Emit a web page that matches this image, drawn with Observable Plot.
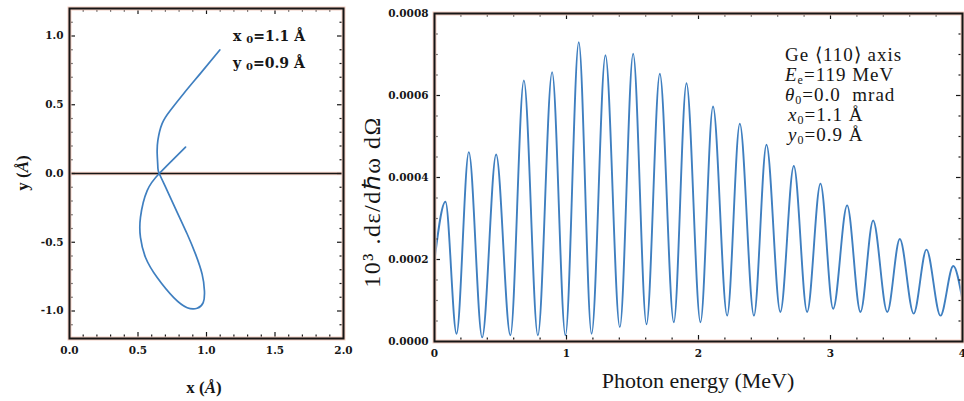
<!DOCTYPE html>
<html><head><meta charset="utf-8">
<script src="https://cdn.jsdelivr.net/npm/d3@7"></script>
<script src="https://cdn.jsdelivr.net/npm/@observablehq/plot@0.6"></script>
<style>
html,body{margin:0;padding:0;background:#fff;}
#wrap{position:relative;width:964px;height:401px;overflow:hidden;background:#fff;}
#left{position:absolute;left:0;top:0;}
#right{position:absolute;left:360px;top:0;}
svg{overflow:visible;}
</style></head><body>
<div id="wrap"><div id="left"></div><div id="right"></div></div>
<script>
// ---- Data: trajectory (Å), in path order ----
const trajX = [1.097,0.956,0.834,0.737,0.676,0.645,0.640,0.645,0.655,0.713,0.786,0.859,0.920,0.968,0.985,0.976,0.932,0.859,0.761,0.640,0.555,0.518,0.518,0.567,0.655,0.750,0.847];
const trajY = [0.898,0.728,0.582,0.460,0.363,0.241,0.144,0.046,0.000,-0.124,-0.282,-0.440,-0.586,-0.732,-0.854,-0.939,-0.980,-0.976,-0.903,-0.757,-0.611,-0.465,-0.319,-0.124,0.000,0.096,0.192];

// ---- Data: spectrum extrema (MeV, value) ----
const specE = [0,0.083,0.167,0.260,0.361,0.467,0.575,0.677,0.783,0.891,0.992,1.093,1.190,1.295,1.404,1.505,1.606,1.707,1.813,1.909,2.015,2.110,2.217,2.313,2.420,2.515,2.620,2.722,2.823,2.924,3.020,3.126,3.227,3.323,3.430,3.525,3.630,3.727,3.833,3.930,4.000];
const specV = [0.000198,0.000341,0.000019,0.000462,0.000010,0.000456,0.000015,0.000637,0.000015,0.000657,0.000015,0.000730,0.000019,0.000698,0.000035,0.000702,0.000042,0.000653,0.000047,0.000630,0.000047,0.000573,0.000063,0.000531,0.000063,0.000480,0.000072,0.000428,0.000072,0.000385,0.000080,0.000332,0.000072,0.000295,0.000072,0.000250,0.000068,0.000224,0.000063,0.000184,0.000100];

// ---- Tick values ----
const leftXTicks = [0,0.5,1,1.5,2];
const leftYTicks = [-1,-0.5,0,0.5,1];
const leftXMinor = [0.1,0.2,0.3,0.4,0.6,0.7,0.8,0.9,1.1,1.2,1.3,1.4,1.6,1.7,1.8,1.9];
const leftYMinor = [-1.1,-0.9,-0.8,-0.7,-0.6,-0.4,-0.3,-0.2,-0.1,0.1,0.2,0.3,0.4,0.6,0.7,0.8,0.9,1.1];
const rightXTicks = [0,1,2,3,4];
const rightXMinor = [0.2,0.4,0.6,0.8,1.2,1.4,1.6,1.8,2.2,2.4,2.6,2.8,3.2,3.4,3.6,3.8];
const rightYTicks = [0,0.0002,0.0004,0.0006,0.0008];
const rightYMinor = [0.00005,0.0001,0.00015,0.00025,0.0003,0.00035,0.00045,0.0005,0.00055,0.00065,0.0007,0.00075];

const INK = "#161616";
const HALO = "#f4cfc3";
const BLUE = "#3f7fc0";
const tickFont = {fontSize: 10.5, fontWeight: "bold", fontFamily: "DejaVu Serif", fill: INK};

function tickMarks(xs, ys, xMinor, yMinor, pW, pH) {
  const M = 6, m = 3.5, sw = 1.2;
  return [
    Plot.tickX(xs, {x: d => d, insetTop: pH - M, stroke: INK, strokeWidth: sw}),
    Plot.tickX(xs, {x: d => d, insetBottom: pH - M, stroke: INK, strokeWidth: sw}),
    Plot.tickX(xMinor, {x: d => d, insetTop: pH - m, stroke: INK, strokeWidth: sw}),
    Plot.tickX(xMinor, {x: d => d, insetBottom: pH - m, stroke: INK, strokeWidth: sw}),
    Plot.tickY(ys, {y: d => d, insetRight: pW - M, stroke: INK, strokeWidth: sw}),
    Plot.tickY(ys, {y: d => d, insetLeft: pW - M, stroke: INK, strokeWidth: sw}),
    Plot.tickY(yMinor, {y: d => d, insetRight: pW - m, stroke: INK, strokeWidth: sw}),
    Plot.tickY(yMinor, {y: d => d, insetLeft: pW - m, stroke: INK, strokeWidth: sw})
  ];
}

// ---------------- Left panel ----------------
const L = {w: 360, h: 401, ml: 69, mr: 17, mt: 8, mb: 63};
const LpW = L.w - L.ml - L.mr, LpH = L.h - L.mt - L.mb;
const traj = trajX.map((x, i) => ({x, y: trajY[i]}));

const left = Plot.plot({
  width: L.w, height: L.h,
  marginLeft: L.ml, marginRight: L.mr, marginTop: L.mt, marginBottom: L.mb,
  x: {domain: [0, 2], label: null},
  y: {domain: [-1.2, 1.2], label: null},
  style: {background: "transparent", overflow: "visible"},
  marks: [
    Plot.ruleY([0], {stroke: HALO, strokeWidth: 3.5}),
    Plot.ruleY([0], {stroke: INK, strokeWidth: 1.5}),
    Plot.line(traj, {x: "x", y: "y", curve: "natural", stroke: BLUE, strokeWidth: 1.7}),
    ...tickMarks(leftXTicks, leftYTicks, leftXMinor, leftYMinor, LpW, LpH),
    Plot.frame({stroke: HALO, strokeWidth: 4}),
    Plot.frame({stroke: INK, strokeWidth: 2}),
    Plot.axisX({ticks: leftXTicks, tickSize: 0, tickPadding: 8, tickFormat: d => d.toFixed(1), label: null, ...tickFont}),
    Plot.axisY({ticks: leftYTicks, tickSize: 0, tickPadding: 6, tickFormat: d => d.toFixed(1), label: null, ...tickFont})
  ]
});
document.getElementById("left").appendChild(left);

{
  const svg = d3.select(left);
  const g = svg.append("g").attr("fill", INK);
  const xl = g.append("text").attr("x", 204).attr("y", 393).attr("text-anchor", "middle")
    .attr("font-family", "Liberation Serif").attr("font-weight", "bold").attr("font-size", 17);
  xl.append("tspan").text("x (");
  xl.append("tspan").attr("font-style", "italic").text("Å");
  xl.append("tspan").text(")");
  const yl = g.append("text").attr("transform", "translate(28,173) rotate(-90)").attr("text-anchor", "middle")
    .attr("font-family", "Liberation Serif").attr("font-weight", "bold").attr("font-size", 17);
  yl.append("tspan").text("y (");
  yl.append("tspan").attr("font-style", "italic").text("Å");
  yl.append("tspan").text(")");
  const ann = [["x", "=1.1 Å", 41], ["y", "=0.9 Å", 68]];
  for (const [v, rest, yy] of ann) {
    const t = g.append("text").attr("x", 233).attr("y", yy).attr("text-anchor", "start")
      .attr("font-family", "DejaVu Serif").attr("font-weight", "bold").attr("font-size", 14);
    t.append("tspan").text(v + " ");
    t.append("tspan").attr("font-size", 10).attr("dy", 2).text("0");
    t.append("tspan").attr("dy", -2).text(rest);
  }
}

// ---------------- Right panel ----------------
const R = {w: 604, h: 401, ml: 74, mr: 2, mt: 13, mb: 60};
const RpW = R.w - R.ml - R.mr, RpH = R.h - R.mt - R.mb;
const spec = specE.map((e, i) => ({e, v: specV[i]}));

const right = Plot.plot({
  width: R.w, height: R.h,
  marginLeft: R.ml, marginRight: R.mr, marginTop: R.mt, marginBottom: R.mb,
  x: {domain: [0, 4], label: null},
  y: {domain: [0, 0.0008], label: null},
  style: {background: "transparent", overflow: "visible"},
  marks: [
    Plot.line(spec, {x: "e", y: "v", curve: "monotone-x", stroke: BLUE, strokeWidth: 1.9}),
    ...tickMarks(rightXTicks, rightYTicks, rightXMinor, rightYMinor, RpW, RpH),
    Plot.frame({stroke: HALO, strokeWidth: 4}),
    Plot.frame({stroke: INK, strokeWidth: 2}),
    Plot.axisX({ticks: rightXTicks, tickSize: 0, tickPadding: 8, tickFormat: d => String(d), label: null, ...tickFont}),
    Plot.axisY({ticks: rightYTicks, tickSize: 0, tickPadding: 6, tickFormat: d => d.toFixed(4), label: null, ...tickFont})
  ]
});
document.getElementById("right").appendChild(right);

{
  const svg = d3.select(right);
  const g = svg.append("g").attr("fill", INK).attr("font-family", "Liberation Serif");
  g.append("text").attr("x", 338).attr("y", 388).attr("text-anchor", "middle").attr("font-size", 22)
    .text("Photon energy (MeV)");
  g.append("text").attr("transform", "translate(20,202) rotate(-90)").attr("text-anchor", "middle")
    .attr("font-size", 24).attr("letter-spacing", 1.5)
    .text("10³ .dε/dℏω dΩ");
  const ax = 425;
  const fs = 19;
  const ls = 1;
  g.append("text").attr("x", ax).attr("y", 61).attr("text-anchor", "start").attr("font-size", fs)
    .attr("letter-spacing", ls).text("Ge ⟨110⟩ axis");
  const lines = [["E", "e", "=119 MeV", 81, 0], ["θ", "0", "=0.0  mrad", 101, 0], ["x", "0", "=1.1 Å", 121, 3], ["y", "0", "=0.9 Å", 141, 3]];
  for (const [v, sub, rest, yy, off] of lines) {
    const t = g.append("text").attr("x", ax + off).attr("y", yy).attr("text-anchor", "start")
      .attr("font-size", fs).attr("letter-spacing", ls).attr("xml:space", "preserve");
    t.append("tspan").attr("font-style", "italic").text(v);
    t.append("tspan").attr("font-size", 12).attr("dy", 3).text(sub);
    t.append("tspan").attr("dy", -3).text(rest);
  }
}
</script>
</body></html>
